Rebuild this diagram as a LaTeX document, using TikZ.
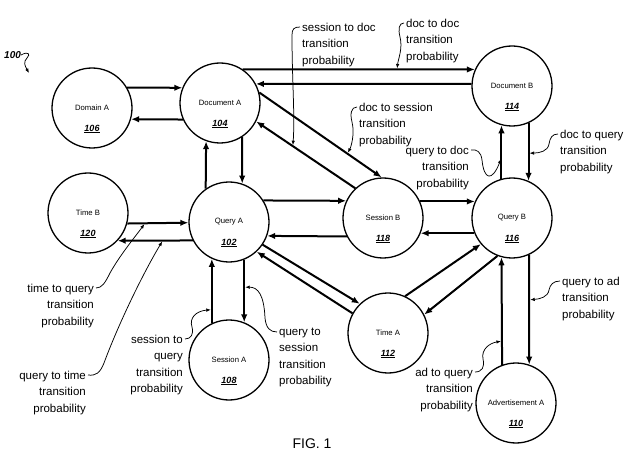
\documentclass[tikz,border=0pt]{standalone}
\usepackage{fontspec}
\setmainfont{Liberation Sans}
\usetikzlibrary{arrows.meta}

\begin{document}
\begin{tikzpicture}[x=1pt,y=-1pt,
    state/.style={draw,circle,line width=1.3pt,minimum size=80pt,inner sep=0pt,font=\fontsize{7.7}{9}\selectfont},
    num/.style={yshift=-21pt,inner sep=0pt,font=\fontsize{9}{10}\selectfont\bfseries\itshape},
    conn/.style={line width=2pt,-{Latex[length=8pt,width=6.5pt]}},
    ptr/.style={line width=0.75pt,-{Latex[length=4.5pt,width=3.5pt]},shorten >=1pt},
    lbl/.style={inner sep=0pt,font=\fontsize{11.5}{16.5}\selectfont}]
    \useasboundingbox (0,0) rectangle (638,468);

    % states
    \node[state,label={[num]center:\underline{106}}] (domA) at (92,108) {Domain A};
    \node[state,label={[num]center:\underline{104}}] (docA) at (220,103) {Document A};
    \node[state,label={[num]center:\underline{114}}] (docB) at (512,86) {Document B};
    \node[state,label={[num]center:\underline{120}}] (timeB) at (88,213) {Time B};
    \node[state,label={[num]center:\underline{102}}] (qryA) at (229,222) {Query A};
    \node[state,label={[num]center:\underline{118}}] (sesB) at (383,218) {Session B};
    \node[state,label={[num]center:\underline{116}}] (qryB) at (512,218) {Query B};
    \node[state,label={[num]center:\underline{108}}] (sesA) at (229,360) {Session A};
    \node[state,label={[num]center:\underline{112}}] (timeA) at (388,333) {Time A};
    \node[state,label={[num]center:\underline{110}}] (adA) at (516,403) {Advertisement A};

    % transitions
    \draw[conn] (domA.30) -- (docA.158);
    \draw[conn] (docA.204) -- (domA.344);
    \draw[conn] (docA.56) -- coordinate[pos=0.665] (tDocDoc) (docB.156);
    \draw[conn] (docB.177) -- (docA.28);
    \draw[conn] (qryA.125) -- (docA.250);
    \draw[conn] (docA.303) -- (qryA.71);
    \draw[conn] (docA.15) -- coordinate[pos=0.72] (tDocSes) (sesB.92);
    \draw[conn] (sesB.133) -- coordinate[pos=0.63] (tSesDoc) (docA.333);
    \draw[conn] (qryA.32) -- (sesB.155);
    \draw[conn] (sesB.207) -- (qryA.340);
    \draw[conn] (sesB.24) -- (qryB.156);
    \draw[conn] (qryB.202) -- (sesB.338);
    \draw[conn] (timeB.345) -- coordinate[pos=0.29] (tTimeQry) (qryA.181);
    \draw[conn] (qryA.207) -- coordinate[pos=0.4] (tQryTime) (timeB.317);
    \draw[conn] (sesA.115) -- coordinate[pos=0.21] (tSesQry) (qryA.245);
    \draw[conn] (qryA.292) -- coordinate[pos=0.44] (tQrySes) (sesA.68);
    \draw[conn] (qryA.326) -- (timeA.134);
    \draw[conn] (timeA.151) -- (qryA.313);
    \draw[conn] (timeA.65) -- (qryB.220);
    \draw[conn] (qryB.249) -- (timeA.27);
    \draw[conn] (qryB.105) -- coordinate[pos=0.39] (tQryDoc) (docB.255);
    \draw[conn] (docB.294) -- coordinate[pos=0.52] (tDocQry) (qryB.66);
    \draw[conn] (adA.110) -- coordinate[pos=0.22] (tAdQry) (qryB.255);
    \draw[conn] (qryB.295) -- coordinate[pos=0.41] (tQryAd) (adA.71);

    % labels
    \node[lbl,anchor=north west,align=left] (lblSesDoc) at (302,22.5) {session to doc\\transition\\probability};
    \node[lbl,anchor=north west,align=left] (lblDocDoc) at (406,18.5) {doc to doc\\transition\\probability};
    \node[lbl,anchor=north west,align=left] (lblDocSes) at (359,102.5) {doc to session\\transition\\probability};
    \node[lbl,anchor=north east,align=right] (lblQryDoc) at (469,145.5) {query to doc\\transition\\probability};
    \node[lbl,anchor=north west,align=left] (lblDocQry) at (560,129.5) {doc to query\\transition\\probability};
    \node[lbl,anchor=north east,align=right] (lblTimeQry) at (94,283.5) {time to query\\transition\\probability};
    \node[lbl,anchor=north east,align=right] (lblQryTime) at (86,370.5) {query to time\\transition\\probability};
    \node[lbl,anchor=north east,align=right] (lblSesQry) at (183,334.5) {session to\\query\\transition\\probability};
    \node[lbl,anchor=north west,align=left] (lblQrySes) at (279,327.5) {query to\\session\\transition\\probability};
    \node[lbl,anchor=north west,align=left] (lblQryAd) at (562,276.5) {query to ad\\transition\\probability};
    \node[lbl,anchor=north east,align=right] (lblAdQry) at (473,367.5) {ad to query\\transition\\probability};

    % pointers
    \draw[ptr] ([shift={(-2pt,-4.5pt)}]lblSesDoc.north west) .. controls (294,27) and (292,29) .. (292,35)
        .. controls (292,80) and (295,115) .. (tSesDoc);
    \draw[ptr] ([shift={(-2pt,-4.5pt)}]lblDocDoc.north west) .. controls (399,23) and (398,29) .. (400,37)
        .. controls (403,48) and (398,60) .. (tDocDoc);
    \draw[ptr] ([shift={(-2pt,-4.5pt)}]lblDocSes.north west) .. controls (351,107) and (350,114) .. (352,122)
        .. controls (355,134) and (351,147) .. (tDocSes);
    \draw[ptr] ([shift={(2pt,-4.5pt)}]lblQryDoc.north east) .. controls (477,149) and (481,152) .. (482,160)
        .. controls (484,180) and (492,182) .. (tQryDoc);
    \draw[ptr] ([shift={(-2pt,-4.5pt)}]lblDocQry.north west) .. controls (552,134) and (550,138) .. (549,144)
        .. controls (548,151) and (540,153) .. (tDocQry);
    \draw[ptr] ([shift={(2pt,-4.5pt)}]lblTimeQry.north east) .. controls (102,288) and (105,283) .. (110,273)
        .. controls (120,255) and (135,237) .. (tTimeQry);
    \draw[ptr] ([shift={(2pt,-4.5pt)}]lblQryTime.north east) .. controls (96,376) and (100,373) .. (104,363)
        .. controls (120,320) and (145,270) .. (tQryTime);
    \draw[ptr] ([shift={(2pt,-4.5pt)}]lblSesQry.north east) .. controls (191,339) and (194,334) .. (192,327)
        .. controls (189,318) and (196,311) .. (tSesQry);
    \draw[ptr] ([shift={(-2pt,-4.5pt)}]lblQrySes.north west) .. controls (270,332) and (266,328) .. (265,318)
        .. controls (264,295) and (258,287) .. (tQrySes);
    \draw[ptr] ([shift={(-2pt,-4.5pt)}]lblQryAd.north west) .. controls (553,281) and (550,285) .. (549,290)
        .. controls (548,297) and (540,299) .. (tQryAd);
    \draw[ptr] ([shift={(2pt,-4.5pt)}]lblAdQry.north east) .. controls (482,372) and (485,367) .. (483,359)
        .. controls (481,349) and (490,343) .. (tAdQry);

    % figure reference
    \node[inner sep=0pt,anchor=west,font=\fontsize{10}{12}\selectfont\bfseries\itshape] (ref100) at (4,55) {100};
    \coordinate (p100) at (29,73);
    \draw[ptr,shorten >=0pt] (ref100.east) .. controls (28,51) and (31,54) .. (27,58)
        .. controls (23,62) and (25,66) .. (p100);
    \node[inner sep=0pt,font=\fontsize{14}{16}\selectfont] (fig) at (312,444) {FIG. 1};
\end{tikzpicture}
\end{document}
